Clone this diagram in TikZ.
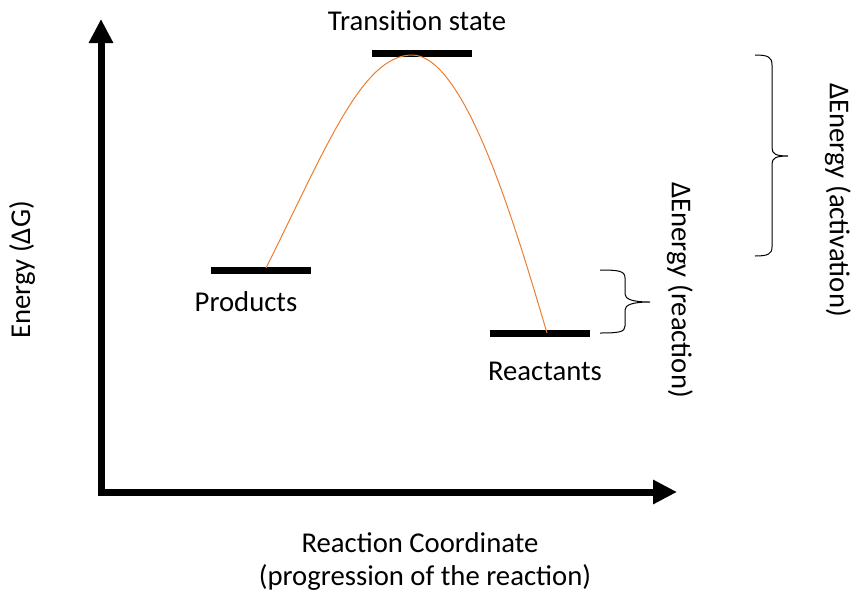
\documentclass[tikz,border=0pt]{standalone}
\usepackage{fontspec}
\setmainfont{Carlito}
\usetikzlibrary{arrows.meta, positioning}
\definecolor{curveorange}{RGB}{237,125,49}

\begin{document}
\begin{tikzpicture}[
    x=1pt, y=-1pt,
    every node/.style={font=\fontsize{28.7}{34}\selectfont, inner sep=0pt},
    level/.style={fill=black, minimum width=100pt, minimum height=7pt, inner sep=0pt},
    axis/.style={line width=7pt, -{Triangle[length=24pt, width=23pt]}},
    bracket/.style={line width=1pt}
]
\useasboundingbox (0,0) rectangle (854,595);

% Axes
\coordinate (origin) at (101,492);
\coordinate (ytip) at (101,19);
\coordinate (xtip) at (677,492);
\draw[axis] ([yshift=-3.5pt]origin) -- (ytip);
\draw[axis] ([xshift=-3.5pt]origin) -- (xtip);
\node[rotate=90] (ylabel) at (22,270) {Energy (ΔG)};
\node (xlabel) at (420,543) {Reaction Coordinate};
\node (xsub) at (425,577) {(progression of the reaction)};

% Energy levels
\node[level] (ts) at (422,53.5) {};
\node[level] (prod) at (261,270) {};
\node[level] (reac) at (539.5,333) {};
\node (tslabel) at (417,21) {Transition state};
\node (prodlabel) at (246,302) {Products};
\node (reaclabel) at (545,371) {Reactants};

% Reaction path
\coordinate (start) at (266,268);
\coordinate (peak) at (412,55);
\coordinate (finish) at (547,333);
\draw[curveorange, line width=1pt] (start) .. controls (326,148) and (362,55) .. (peak)
    .. controls (465,55) and (515,225) .. (finish);

% Brace for activation energy
\coordinate (actTop) at (755,55);
\coordinate (actTip) at (788,156);
\coordinate (actBot) at (755,256);
\draw[bracket] (actTop) .. controls (768,55) and (772,57) .. (772,65) -- (772,148)
    .. controls (772,154) and (776,156) .. (actTip)
    .. controls (776,156) and (772,158) .. (772,164) -- (772,247)
    .. controls (772,254) and (768,256) .. (actBot);
\node[rotate=-90] (actlabel) at (838,200) {ΔEnergy (activation)};

% Brace for reaction energy
\coordinate (rxnTop) at (600,270);
\coordinate (rxnTip) at (650,302);
\coordinate (rxnBot) at (600,333);
\draw[bracket] (rxnTop) .. controls (619,270) and (625,271) .. (625,278) -- (625,294)
    .. controls (625,299) and (632,302) .. (rxnTip)
    .. controls (632,302) and (625,305) .. (625,310) -- (625,326)
    .. controls (625,332) and (619,333) .. (rxnBot);
\node[rotate=-90] (rxnlabel) at (680,290) {ΔEnergy (reaction)};

\end{tikzpicture}
\end{document}
